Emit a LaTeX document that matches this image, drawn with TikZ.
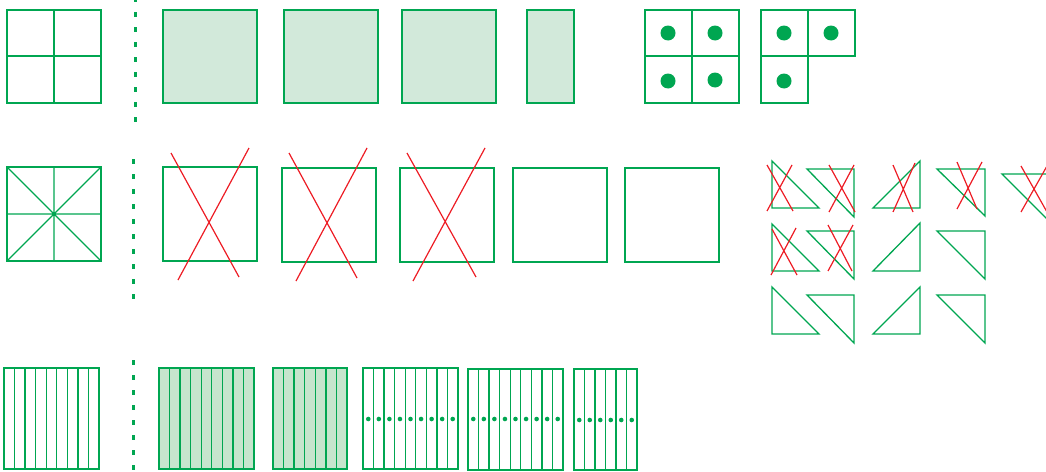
\documentclass[tikz,border=0pt]{standalone}
\definecolor{gr}{HTML}{00A651}
\definecolor{lgr}{HTML}{D2E9DA}
\definecolor{lgr2}{HTML}{C6E5CD}
\definecolor{rd}{HTML}{ED1C24}
\tikzset{
  gline/.style={draw=gr,line width=1.3pt},
  gfill/.style={draw=gr,fill=lgr,line width=1.3pt},
  rline/.style={draw=rd,line width=1.2pt},
  divider/.style={draw=gr,line width=3pt,dash pattern=on 5pt off 10pt},
  gdot/.style={fill=gr},
}
\newcommand\stripebox[6]{% x0 y0 x1 y1 n style
  \draw[#6] (#1,#2) rectangle (#3,#4);
  \foreach \i in {1,...,\numexpr#5-1\relax}{
    \draw[gline] ({#1+\i*(#3-#1)/#5},#2) -- ({#1+\i*(#3-#1)/#5},#4);
  }
}
\newcommand\dotstrips[6]{% x0 x1 n y r (6: unused)
  \foreach \i in {1,...,#3}{
    \fill[gdot] ({#1+(\i-0.5)*(#2-#1)/#3},#4) circle (#5);
  }
}
\begin{document}
\begin{tikzpicture}[x=1pt,y=-1pt]
\useasboundingbox (0,0) rectangle (1046,471);
\clip (0,0) rectangle (1046,471);
% ---------- Row 1 ----------
\draw[gline] (7,10) rectangle (101,103);
\draw[gline] (54,10) -- (54,103) (7,56) -- (101,56);
\draw[divider] (135,-3) -- (135,124);
\draw[gfill] (163,10) rectangle (257,103);
\draw[gfill] (284,10) rectangle (378,103);
\draw[gfill] (402,10) rectangle (496,103);
\draw[gfill] (527,10) rectangle (574,103);
\draw[gline] (645,10) rectangle (739,103);
\draw[gline] (692,10) -- (692,103) (645,56) -- (739,56);
\foreach \p in {(668,33),(715,33),(668,81),(715,80)} \fill[gdot] \p circle (7.5);
\draw[gline] (761,56) -- (761,10) -- (855,10) -- (855,56) -- (761,56) -- (761,103) -- (808,103) -- (808,10);
\foreach \p in {(784,33),(831,33),(784,81)} \fill[gdot] \p circle (7.5);
% ---------- Row 2 ----------
\draw[gline] (7,167) rectangle (101,261);
\draw[gline] (54,167) -- (54,261) (7,214) -- (101,214) (7,167) -- (101,261) (101,167) -- (7,261);
\draw[divider] (133.5,159) -- (133.5,301);
\draw[gline] (163,167) rectangle (257,261);
\draw[rline] (171,153) -- (239,277) (249,148) -- (178,280);
\draw[gline] (282,168) rectangle (376,262);
\draw[rline] (289,153) -- (357,278) (367,148) -- (296,281);
\draw[gline] (400,168) rectangle (494,262);
\draw[rline] (407,153) -- (476,277) (485,148) -- (413,281);
\draw[gline] (513,168) rectangle (607,262);
\draw[gline] (625,168) rectangle (719,262);
% triangles
\draw[gline] (772,161) -- (772,208) -- (819,208) -- cycle;
\draw[rline] (767,165) -- (793,211) (792,165) -- (767,211);
\draw[gline] (807,169) -- (854,169) -- (854,217) -- cycle;
\draw[rline] (829,165) -- (855,212) (854,165) -- (829,212);
\draw[gline] (873,208) -- (920,208) -- (920,161) -- cycle;
\draw[rline] (893,165) -- (913,212) (915,163) -- (893,212);
\draw[gline] (937,169) -- (985,169) -- (985,216) -- cycle;
\draw[rline] (957,162) -- (977,209) (982,162) -- (957,209);
\draw[gline] (1002,174) -- (1050,174) -- (1050,222) -- cycle;
\draw[rline] (1021,166) -- (1047,212) (1047,166) -- (1021,212);
\draw[gline] (772,224) -- (772,271) -- (819,271) -- cycle;
\draw[rline] (772,229) -- (797,275) (796,228) -- (771,275);
\draw[gline] (807,231) -- (854,231) -- (854,279) -- cycle;
\draw[rline] (828,225) -- (852,271) (853,225) -- (828,271);
\draw[gline] (873,271) -- (920,271) -- (920,223) -- cycle;
\draw[gline] (937,231) -- (985,231) -- (985,279) -- cycle;
\draw[gline] (772,287) -- (772,334) -- (819,334) -- cycle;
\draw[gline] (807,295) -- (854,295) -- (854,343) -- cycle;
\draw[gline] (873,334) -- (920,334) -- (920,287) -- cycle;
\draw[gline] (937,295) -- (985,295) -- (985,343) -- cycle;
% ---------- Row 3 ----------
\stripebox{4}{368}{99}{469}{9}{gline}
\draw[divider] (133.5,360) -- (133.5,472);
\stripebox{159}{368}{254}{469}{9}{draw=gr,fill=lgr2,line width=1.3pt}
\stripebox{273}{368}{347}{469}{7}{draw=gr,fill=lgr2,line width=1.3pt}
\stripebox{363}{368}{458}{469}{9}{gline}
\dotstrips{363}{458}{9}{419}{2.3}{}
\stripebox{468}{369}{563}{470}{9}{gline}
\dotstrips{468}{563}{9}{419}{2.3}{}
\stripebox{574}{369}{637}{470}{6}{gline}
\dotstrips{574}{637}{6}{420}{2.3}{}
\end{tikzpicture}
\end{document}
